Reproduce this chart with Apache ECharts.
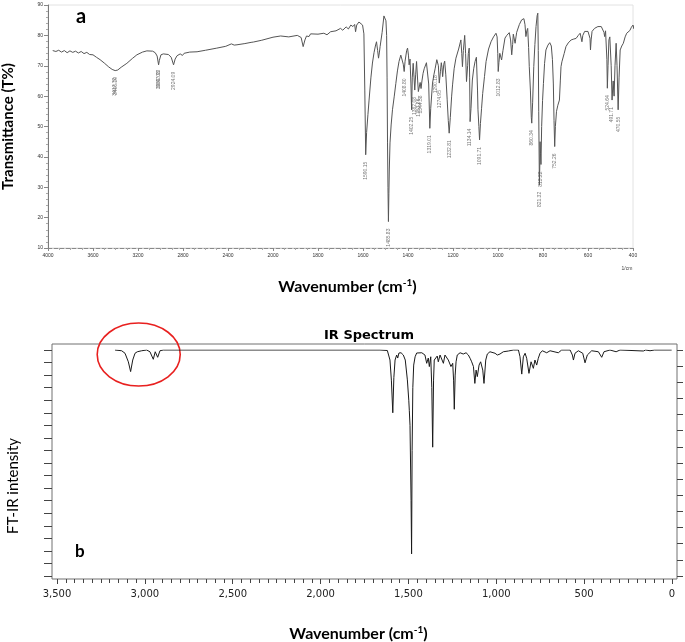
<!DOCTYPE html>
<html><head><meta charset="utf-8">
<script src="https://cdn.jsdelivr.net/npm/echarts@6/dist/echarts.min.js"></script>
<style>html,body{margin:0;padding:0;background:#fff}#c{width:685px;height:642px}</style>
</head><body><div id="c"></div>
<script>
// ---------- Panel a: measured transmittance spectrum ----------
const aTickLabels = ['4000','3600','3200','2800','2400','2000','1800','1600','1400','1200','1000','800','600','400'];
// [wavenumber cm-1, transmittance %]
const aPoints = [
[3958,75.0],[3930,74.7],[3905,75.1],[3880,74.5],[3855,75.0],[3830,74.3],[3805,74.9],[3780,74.4],[3755,74.8],[3730,74.2],
[3705,74.7],[3680,74.0],[3655,74.4],[3630,73.7],[3600,73.6],[3570,72.8],[3537,72.0],[3500,70.9],[3460,69.6],[3430,68.8],
[3403,68.4],[3380,68.6],[3350,69.5],[3299,70.8],[3250,72.4],[3210,73.6],[3160,74.5],[3121,74.9],[3070,74.8],[3047,74.3],
[3030,73.2],[3017,70.3],[3010,71.8],[2996,73.6],[2975,73.9],[2958,74.0],[2930,73.7],[2905,72.8],[2884,70.3],[2870,72.2],
[2853,73.3],[2825,73.9],[2805,73.4],[2790,74.1],[2740,74.5],[2675,74.6],[2600,75.1],[2500,75.8],[2420,76.4],[2370,77.2],
[2345,76.8],[2334,76.3],[2320,76.9],[2250,77.3],[2195,77.7],[2186,77.2],[2175,77.8],[2100,78.4],[2000,79.4],[1966,79.8],
[1930,79.5],[1892,80.0],[1875,79.3],[1866,76.3],[1858,78.5],[1851,79.8],[1840,79.6],[1833,80.5],[1800,80.4],[1774,80.7],
[1760,80.2],[1744,81.2],[1720,81.5],[1700,82.3],[1690,81.7],[1675,82.8],[1665,82.1],[1654,83.4],[1645,82.9],[1637,83.6],
[1633,81.2],[1628,83.4],[1618,84.4],[1610,84.2],[1602,83.4],[1596,80.5],[1592,62.0],[1588,40.7],[1584,48.0],[1578,54.0],
[1573,58.7],[1565,66.0],[1558,70.9],[1551,74.3],[1545,76.5],[1540,77.9],[1535,75.0],[1531,72.5],[1527,74.5],[1524,76.3],
[1515,81.0],[1507,86.4],[1502,86.2],[1498,84.8],[1495,80.0],[1493,66.0],[1491,44.6],[1489,30.0],[1487,18.7],[1485,28.0],
[1483,36.0],[1480,44.6],[1475,50.5],[1469,55.5],[1461,60.0],[1454,64.2],[1447,68.3],[1440,71.4],[1432,73.5],[1425,73.0],
[1421,70.5],[1417,68.1],[1413,71.5],[1406,75.0],[1402,75.8],[1398,73.5],[1395,70.3],[1391,72.2],[1387,64.0],[1384,55.5],
[1381,66.0],[1377,70.8],[1373,66.0],[1370,62.0],[1366,67.0],[1362,71.4],[1357,65.0],[1354,61.5],[1350,62.0],[1346,64.5],
[1342,62.5],[1338,65.0],[1333,67.5],[1328,69.0],[1318,71.0],[1312,71.2],[1308,64.0],[1303,49.4],[1299,56.0],[1291,64.3],
[1285,67.0],[1279,69.2],[1272,72.0],[1269,72.5],[1265,70.0],[1261,64.3],[1256,68.0],[1252,71.0],[1249,69.5],[1246,66.4],
[1241,70.5],[1237,71.5],[1232,67.0],[1226,59.0],[1221,52.0],[1217,47.8],[1212,53.0],[1206,60.0],[1202,63.7],[1195,69.0],
[1187,72.5],[1175,75.5],[1165,78.5],[1161,74.0],[1158,69.7],[1154,75.0],[1148,80.0],[1144,74.0],[1140,64.8],[1135,70.0],
[1132,74.0],[1128,75.8],[1126,66.0],[1124,51.6],[1120,56.0],[1114,65.3],[1108,69.0],[1102,71.4],[1096,72.8],[1094,73.0],
[1091,62.0],[1089,55.5],[1085,50.0],[1082,45.6],[1078,51.0],[1073,56.0],[1068,60.9],[1060,66.5],[1053,71.4],[1042,75.5],
[1031,77.9],[1020,79.5],[1009,80.7],[1004,79.5],[1001,74.0],[999,68.1],[996,71.0],[992,74.1],[988,73.5],[984,71.9],
[978,75.0],[969,79.1],[961,80.0],[950,80.9],[944,78.5],[939,73.6],[935,77.0],[932,80.4],[928,80.0],[924,77.4],
[920,79.5],[917,81.0],[905,83.6],[895,85.1],[885,85.5],[880,83.5],[876,79.6],[872,81.5],[868,82.3],[864,76.0],
[861,69.7],[856,62.0],[852,53.0],[850,51.1],[846,58.0],[841,69.7],[836,77.0],[831,82.9],[826,86.5],[823,87.3],
[821,75.0],[819,55.0],[816,30.8],[814,38.0],[813,45.0],[811,41.0],[809,37.5],[806,50.0],[802,58.5],[798,64.2],
[793,70.8],[787,75.2],[778,76.8],[770,77.6],[763,76.5],[758,72.0],[754,64.0],[751,52.0],[748,43.4],[745,50.0],
[740,55.0],[734,57.0],[727,58.7],[723,65.0],[720,69.7],[716,71.3],[713,71.0],[706,74.0],[698,76.3],[688,77.5],
[675,78.5],[663,78.8],[653,79.0],[643,80.0],[635,80.7],[630,80.2],[627,77.9],[623,80.0],[615,81.3],[607,81.1],
[600,81.3],[593,81.6],[591,79.0],[589,75.2],[586,78.5],[582,81.3],[571,82.3],[556,82.9],[541,82.9],[533,82.5],
[529,81.0],[526,79.6],[522,81.5],[519,82.0],[516,72.0],[514,62.6],[511,70.0],[507,78.5],[503,79.5],[500,79.0],
[497,70.0],[493,58.7],[490,63.0],[488,65.0],[486,62.0],[484,60.0],[480,70.0],[475,77.4],[471,70.0],[466,55.5],
[462,66.0],[457,75.2],[450,76.5],[443,77.4],[435,79.5],[428,80.7],[421,81.0],[414,81.6],[407,82.7],[400,83.4],
[396,82.2],[392,84.0],[388,83.2],[384,81.0],[380,83.5],[376,82.6]
];
// peak annotations: [wavenumber, transmittance, label]
const aPeaks = [
[3410,68.4,'3417.72'],[3398,68.6,'3406.29'],[3021,70.5,'3061.03'],[3013,71.0,'3047.93'],[2884,70.3,'2924.09'],
[1588,40.7,'1590.15'],[1487,18.7,'1485.83'],[1417,68.1,'1408.80'],[1384,55.5,'1402.25'],[1370,62.0,'1382.08'],
[1354,61.5,'1353.86'],[1342,62.5,'1344.38'],[1303,49.4,'1319.01'],[1279,69.2,'1290.18'],[1261,64.3,'1274.95'],
[1217,47.8,'1232.81'],[1124,51.6,'1134.14'],[1082,45.6,'1091.71'],[999,68.1,'1012.83'],[850,51.1,'860.34'],
[816,30.8,'821.32'],[809,37.5,'813.22'],[748,43.4,'752.26'],[514,62.6,'524.64'],[493,58.7,'491.71'],[466,55.5,'470.55']
];

// ---------- Panel b: computed IR spectrum ----------
// [wavenumber cm-1, intensity (arbitrary, downward)]
const bPoints = [
[3170,0],[3132,3],[3113,13],[3094,47],[3081,86],[3069,40],[3056,13],[3043,7],[3032,13],[3018,3],
[3009,9],[2990,0],[2971,7],[2952,37],[2941,7],[2927,29],[2914,3],[2895,0],[1662,0],[1620,2],
[1605,40],[1597,120],[1589,250],[1583,110],[1576,40],[1567,20],[1561,32],[1554,12],[1542,11],[1529,20],
[1518,40],[1506,119],[1498,200],[1495,240],[1491,300],[1485,600],[1482,812],[1479,400],[1475,150],[1470,60],
[1462,27],[1453,12],[1424,11],[1406,20],[1396,53],[1387,32],[1381,66],[1373,27],[1367,150],[1362,387],
[1357,120],[1353,40],[1343,40],[1336,24],[1330,47],[1320,20],[1311,24],[1301,53],[1292,20],[1282,27],
[1273,40],[1263,47],[1258,66],[1248,53],[1243,120],[1239,236],[1234,100],[1229,47],[1222,20],[1206,11],
[1188,16],[1172,11],[1159,20],[1149,33],[1140,47],[1130,66],[1122,133],[1115,80],[1108,106],[1098,60],
[1089,47],[1077,80],[1070,133],[1060,40],[1051,16],[1036,7],[1007,13],[994,20],[979,16],[960,7],
[931,4],[903,0],[874,0],[865,27],[855,96],[846,27],[836,13],[827,33],[814,93],[802,47],
[789,73],[780,40],[770,60],[761,33],[751,13],[738,3],[713,11],[694,3],[647,11],[628,0],
[580,0],[567,20],[561,40],[552,13],[533,3],[508,13],[495,51],[482,20],[457,3],[419,7],
[400,29],[387,7],[353,0],[318,7],[296,0],[163,4],[150,0],[125,3],[100,0],[2,0]
];

function toIdx(w) { return w >= 2000 ? (4000 - w) / 400 : 5 + (2000 - w) / 200; }

const titleRich = {
  t: { fontFamily: 'Lato', fontWeight: 'bold', fontSize: 16, color: '#000', lineHeight: 18 },
  s: { fontFamily: 'Lato', fontWeight: 'bold', fontSize: 10, color: '#000', verticalAlign: 'top', lineHeight: 18 }
};
const xTitle = '{t|Wavenumber (cm}{s|-1}{t|)}';

const chart = echarts.init(document.getElementById('c'), null, { renderer: 'canvas' });
chart.setOption({
  animation: false,
  backgroundColor: '#fff',
  grid: [
    { left: 48, right: 52, top: 5, bottom: 394, show: true, borderColor: '#e2e2e2', borderWidth: 1, outerBoundsMode: 'none' },
    { left: 52, right: 8, top: 344, bottom: 63, show: true, borderColor: '#707070', borderWidth: 1, outerBoundsMode: 'none' },
    { left: 57, right: 13, top: 350, bottom: 66, outerBoundsMode: 'none' }
  ],
  xAxis: [
    { gridIndex: 0, type: 'value', min: 0, max: 13, interval: 1,
      axisLine: { show: true, onZero: false, lineStyle: { color: '#8a8a8a', type: 'dashed', width: 1 } },
      axisTick: { show: true, inside: false, length: 3, lineStyle: { color: '#888' } },
      minorTick: { show: true, splitNumber: 4, length: 2, lineStyle: { color: '#aaa' } },
      splitLine: { show: false }, minorSplitLine: { show: false },
      axisLabel: { fontSize: 5, color: '#333', margin: 5,
        formatter: v => (Math.abs(v - Math.round(v)) < 1e-6 ? (aTickLabels[Math.round(v)] || '') : '') },
      name: xTitle, nameLocation: 'middle', nameGap: 30,
      nameTextStyle: { rich: titleRich, padding: [0, 0, 0, 14] } },
    { gridIndex: 1, type: 'value', show: false, min: 0, max: 1 },
    { gridIndex: 2, type: 'value', min: 0, max: 3500, interval: 500, inverse: true, offset: 3, position: 'bottom',
      axisLine: { show: false, onZero: false },
      axisTick: { show: true, length: 5, lineStyle: { color: '#444' } },
      minorTick: { show: true, splitNumber: 10, length: 4, lineStyle: { color: '#444' } },
      splitLine: { show: false }, minorSplitLine: { show: false },
      axisLabel: { fontFamily: 'DejaVu Sans', fontSize: 10, color: '#222', margin: 10,
        formatter: v => v.toLocaleString('en-US') },
      name: xTitle, nameLocation: 'middle', nameGap: 46,
      nameTextStyle: { rich: titleRich, padding: [0, 12, 0, 0] } }
  ],
  yAxis: [
    { gridIndex: 0, type: 'value', min: 10, max: 90, interval: 10,
      axisLine: { show: true, onZero: false, lineStyle: { color: '#7a7a7a' } },
      axisTick: { show: true, length: 4, lineStyle: { color: '#888' } },
      minorTick: { show: true, splitNumber: 5, length: 2, lineStyle: { color: '#aaa' } },
      splitLine: { show: false }, minorSplitLine: { show: false },
      axisLabel: { fontSize: 5, color: '#333', margin: 5 },
      name: 'Transmittance (T%)', nameLocation: 'middle', nameGap: 32,
      nameTextStyle: { fontFamily: 'Lato', fontWeight: 'bold', fontSize: 15, color: '#000' } },
    { gridIndex: 1, type: 'value', show: false, min: 0, max: 1 },
    { gridIndex: 2, type: 'value', min: 0, max: 900, interval: 50, inverse: true, position: 'left', offset: 5,
      axisLine: { show: false, onZero: false },
      axisTick: { show: true, length: 8, lineStyle: { color: '#444' } },
      axisLabel: { show: false }, splitLine: { show: false },
      name: 'FT-IR intensity', nameLocation: 'middle', nameGap: 31,
      nameTextStyle: { fontFamily: 'Lato', fontSize: 15, color: '#000', padding: [0, 46, 0, 0] } },
    { gridIndex: 2, type: 'value', min: 0, max: 14, interval: 1, inverse: true, position: 'right', offset: 5,
      axisLine: { show: false, onZero: false },
      axisTick: { show: true, length: 6, lineStyle: { color: '#444' } },
      axisLabel: { show: false }, splitLine: { show: false } }
  ],
  series: [
    { type: 'line', xAxisIndex: 0, yAxisIndex: 0, symbol: 'none', clip: false,
      data: aPoints.map(p => [toIdx(p[0]), p[1]]),
      lineStyle: { color: '#555', width: 1 } },
    { type: 'scatter', xAxisIndex: 0, yAxisIndex: 0, symbolSize: 0, silent: true,
      data: aPeaks.map(p => ({ value: [toIdx(p[0]), p[1]], name: p[2] })),
      label: { show: true, formatter: '{b}', position: 'bottom', distance: 7, rotate: 90,
        align: 'right', verticalAlign: 'middle', fontSize: 5, color: '#555' } },
    { type: 'line', xAxisIndex: 2, yAxisIndex: 2, symbol: 'none',
      data: bPoints,
      lineStyle: { color: '#1a1a1a', width: 1 } }
  ],
  title: {
    text: 'IR Spectrum', left: 364, top: 324, textAlign: 'center',
    textStyle: { fontFamily: 'DejaVu Sans', fontWeight: 'bold', fontSize: 13, color: '#000' }
  }
});

const ctr = chart.convertToPixel({ seriesIndex: 2 }, [3035, 18]);
const lab = chart.convertToPixel({ seriesIndex: 0 }, [13, 10]);
chart.setOption({
  graphic: [
    { type: 'text', left: 76, top: 7, style: { text: 'a', font: 'bold 20px Lato', fill: '#000' } },
    { type: 'text', left: 75, top: 543, style: { text: 'b', font: 'bold 17px Lato', fill: '#000' } },
    { type: 'text', x: lab[0] - 6, y: lab[1] + 21, style: { text: '1/cm', fontSize: 5, fill: '#444', align: 'center', verticalAlign: 'middle' } },
    { type: 'ellipse', shape: { cx: ctr[0], cy: ctr[1], rx: 41.5, ry: 31.5 },
      style: { fill: 'none', stroke: '#e8201f', lineWidth: 1.6 } }
  ]
});
</script>
</body></html>
